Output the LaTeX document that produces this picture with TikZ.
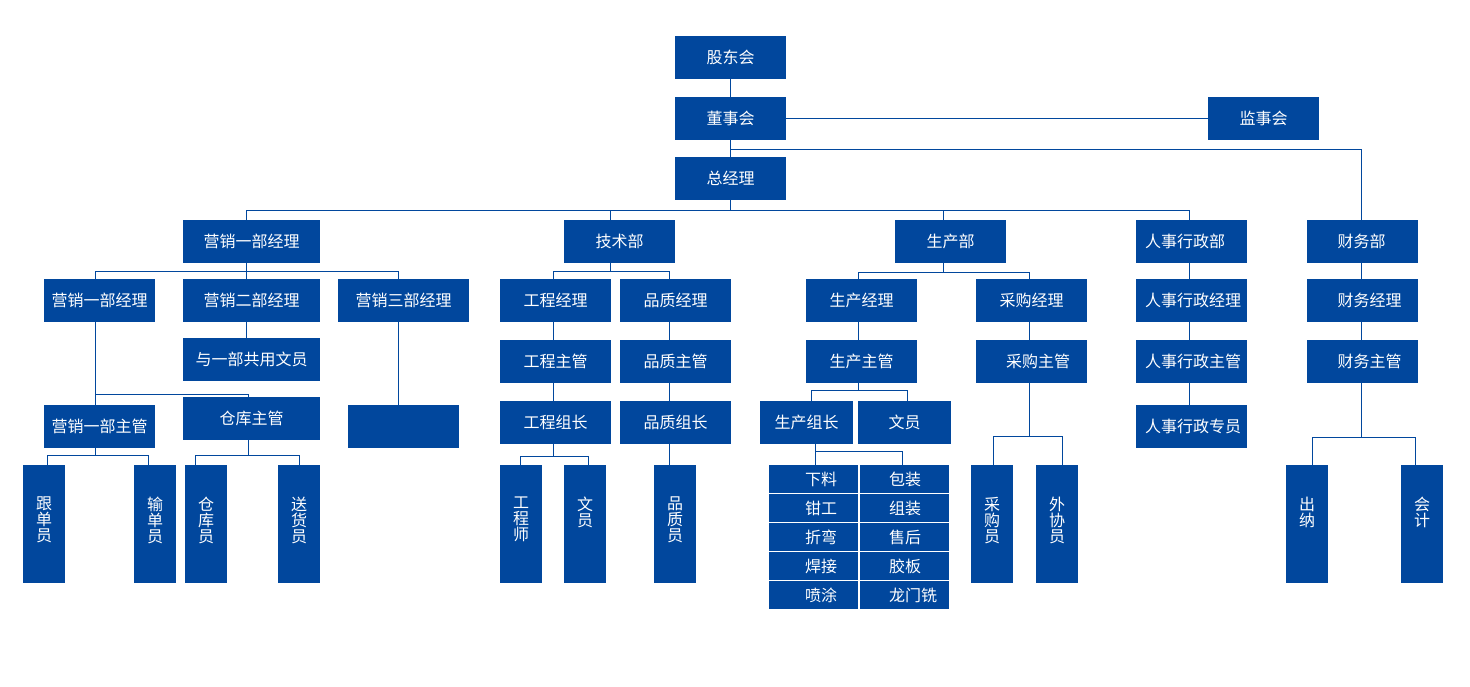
\documentclass[tikz,border=0pt]{standalone}
\usepackage{fontspec}
\setmainfont{Noto Sans CJK SC}
\definecolor{boxblue}{RGB}{1,71,157}
\tikzset{
  box/.style={fill=boxblue,draw=none,text=white,inner sep=0pt,outer sep=0pt,
    font=\fontsize{16}{16}\selectfont},
  ln/.style={draw=boxblue,line width=1pt}
}
\newcommand{\bx}[6]{\node[box,minimum width={#4-#2},minimum height={#5-#3}] (#1) at ({(#2+#4)/2},{(#3+#5)/2}) {#6};}
\newcommand{\vbx}[4]{\node[box,minimum width={#3-#2},minimum height=118] (#1) at ({(#2+#3)/2},524) {#4};}
\newcommand{\lb}[3]{\makebox[#1pt][l]{\hspace{#2pt}#3}}
\newcommand{\vc}[1]{\hbox to 0pt{\hss#1\hss}}
\newcommand{\vt}[1]{\vbox to 118pt{\baselineskip=16pt\lineskip=0pt\lineskiplimit=-100pt\vskip 32pt #1\vss}}
\begin{document}
\begin{tikzpicture}[x=1pt,y=-1pt]
\fill[white] (0,0) rectangle (1470,686);
\useasboundingbox (0,0) rectangle (1470,686);
% top
\bx{gd}{675}{36}{786}{79}{股东会}
\bx{dsh}{675}{97}{786}{140}{董事会}
\bx{jsh}{1208}{97}{1319}{140}{监事会}
\bx{zjl}{675}{157}{786}{200}{总经理}
% row 1
\bx{yx1}{183}{220}{320}{263}{营销一部经理}
\bx{jsb}{564}{220}{675}{263}{技术部}
\bx{scb}{895}{220}{1006}{263}{生产部}
\bx{rsb}{1136}{220}{1247}{263}{\lb{111}{9}{人事行政部}}
\bx{cwb}{1307}{220}{1418}{263}{\lb{111}{30.5}{财务部}}
% row 2
\bx{ya}{44}{279}{155}{322}{营销一部经理}
\bx{yb}{183}{279}{320}{322}{营销二部经理}
\bx{yc}{338}{279}{469}{322}{营销三部经理}
\bx{gcjl}{500}{279}{611}{322}{工程经理}
\bx{pzjl}{620}{279}{731}{322}{品质经理}
\bx{scjl}{806}{279}{917}{322}{生产经理}
\bx{cgjl}{976}{279}{1087}{322}{采购经理}
\bx{rsjl}{1136}{279}{1247}{322}{\lb{111}{9}{人事行政经理}}
\bx{cwjl}{1307}{279}{1418}{322}{\lb{111}{30.5}{财务经理}}
% row 3
\bx{wy1}{183}{338}{320}{381}{与一部共用文员}
\bx{gczg}{500}{340}{611}{383}{工程主管}
\bx{pzzg}{620}{340}{731}{383}{品质主管}
\bx{sczg}{806}{340}{917}{383}{生产主管}
\bx{cgzg}{976}{340}{1087}{383}{\lb{111}{30}{采购主管}}
\bx{rszg}{1136}{340}{1247}{383}{\lb{111}{9}{人事行政主管}}
\bx{cwzg}{1307}{340}{1418}{383}{\lb{111}{30.5}{财务主管}}
% row 4
\bx{yzg}{44}{405}{155}{448}{营销一部主管}
\bx{ckzg}{183}{397}{320}{440}{仓库主管}
\bx{blank}{348}{405}{459}{448}{}
\bx{gczz}{500}{401}{611}{444}{工程组长}
\bx{pzzz}{620}{401}{731}{444}{品质组长}
\bx{sczz}{760}{401}{853}{444}{生产组长}
\bx{scwy}{858}{401}{951}{444}{文员}
\bx{rszy}{1136}{405}{1247}{448}{\lb{111}{9}{人事行政专员}}
% row 5 vertical
\vbx{gdy}{23}{65}{\vt{\vc{跟}\vc{单}\vc{员}}}
\vbx{sdy}{134}{176}{\vt{\vc{输}\vc{单}\vc{员}}}
\vbx{cky}{185}{227}{\vt{\vc{仓}\vc{库}\vc{员}}}
\vbx{shy}{278}{320}{\vt{\vc{送}\vc{货}\vc{员}}}
\vbx{gcs}{500}{542}{\vt{\vc{工}\vc{程}\vc{师}}}
\vbx{wy2}{564}{606}{\vt{\vc{文}\vc{员}}}
\vbx{pzy}{654}{696}{\vt{\vc{品}\vc{质}\vc{员}}}
\vbx{cgy}{971}{1013}{\vt{\vc{采}\vc{购}\vc{员}}}
\vbx{wxy}{1036}{1078}{\vt{\vc{外}\vc{协}\vc{员}}}
\vbx{cn}{1286}{1328}{\vt{\vc{出}\vc{纳}}}
\vbx{kj}{1401}{1443}{\vt{\vc{会}\vc{计}}}
% grid
\bx{g1}{769}{465}{858}{493}{\lb{89}{36}{下料}}
\bx{g2}{769}{494}{858}{522}{\lb{89}{36}{钳工}}
\bx{g3}{769}{523}{858}{551}{\lb{89}{36}{折弯}}
\bx{g4}{769}{552}{858}{580}{\lb{89}{36}{焊接}}
\bx{g5}{769}{581}{858}{609}{\lb{89}{36}{喷涂}}
\bx{h1}{860}{465}{949}{493}{\lb{89}{29}{包装}}
\bx{h2}{860}{494}{949}{522}{\lb{89}{29}{组装}}
\bx{h3}{860}{523}{949}{551}{\lb{89}{29}{售后}}
\bx{h4}{860}{552}{949}{580}{\lb{89}{29}{胶板}}
\bx{h5}{860}{581}{949}{609}{\lb{89}{29}{龙门铣}}
% ---------- connectors ----------
\draw[ln] (gd.south) -- (dsh.north);
\draw[ln] (dsh.east) -- (jsh.west);
\draw[ln] (dsh.south) -- (zjl.north);
\coordinate (j1) at (730.5,149.5);
\coordinate (xf) at (1361.5,149.5);
\draw[ln] (j1) -- (xf) -- (xf |- cwb.north);
% main bus
\coordinate (xa) at (246.5,210.5);
\coordinate (xb) at (610.5,210.5);
\coordinate (xz) at (730.5,210.5);
\coordinate (xc) at (943.5,210.5);
\coordinate (xd) at (1189.5,210.5);
\draw[ln] (zjl.south) -- (xz);
\draw[ln] (xa |- yx1.north) -- (xa) -- (xd) -- (xd |- rsb.north);
\draw[ln] (xb) -- (xb |- jsb.north);
\draw[ln] (xc) -- (xc |- scb.north);
% marketing
\coordinate (ma) at (95.5,271.5);
\coordinate (mb) at (246.5,271.5);
\coordinate (mc) at (398.5,271.5);
\draw[ln] (mb |- yx1.south) -- (mb) -- (mb |- yb.north);
\draw[ln] (ma |- ya.north) -- (ma) -- (mc) -- (mc |- yc.north);
\draw[ln] (mb |- yb.south) -- (mb |- wy1.north);
\draw[ln] (ma |- ya.south) -- (ma |- yzg.north);
\coordinate (mk) at (95.5,394);
\coordinate (mk2) at (248.5,394);
\draw[ln] (mk) -- (mk2) -- (mk2 |- ckzg.north);
\draw[ln] (mc |- yc.south) -- (mc |- blank.north);
\coordinate (ga) at (47.5,455.5);
\coordinate (gb) at (95.5,455.5);
\coordinate (gc) at (148.5,455.5);
\draw[ln] (gb |- yzg.south) -- (gb);
\draw[ln] (ga |- gdy.north) -- (ga) -- (gc) -- (gc |- sdy.north);
\coordinate (ka) at (195.5,455.5);
\coordinate (kb) at (248.5,455.5);
\coordinate (kc) at (299.5,455.5);
\draw[ln] (kb |- ckzg.south) -- (kb);
\draw[ln] (ka |- cky.north) -- (ka) -- (kc) -- (kc |- shy.north);
% technical
\coordinate (ta) at (553.5,271.5);
\coordinate (tb) at (610.5,271.5);
\coordinate (tc) at (669.5,271.5);
\draw[ln] (tb |- jsb.south) -- (tb);
\draw[ln] (ta |- gcjl.north) -- (ta) -- (tc) -- (tc |- pzjl.north);
\draw[ln] (ta |- gcjl.south) -- (ta |- gczg.north);
\draw[ln] (ta |- gczg.south) -- (ta |- gczz.north);
\draw[ln] (tc |- pzjl.south) -- (tc |- pzzg.north);
\draw[ln] (tc |- pzzg.south) -- (tc |- pzzz.north);
\draw[ln] (tc |- pzzz.south) -- (tc |- pzy.north);
\coordinate (ea) at (520.5,456.5);
\coordinate (eb) at (553.5,456.5);
\coordinate (ec) at (588.5,456.5);
\draw[ln] (eb |- gczz.south) -- (eb);
\draw[ln] (ea |- gcs.north) -- (ea) -- (ec) -- (ec |- wy2.north);
% production
\coordinate (pa) at (858.5,272);
\coordinate (pb) at (943.5,272);
\coordinate (pc) at (1029.5,272);
\draw[ln] (pb |- scb.south) -- (pb);
\draw[ln] (pa |- scjl.north) -- (pa) -- (pc) -- (pc |- cgjl.north);
\draw[ln] (pa |- scjl.south) -- (pa |- sczg.north);
\coordinate (qa) at (811.5,390.5);
\coordinate (qb) at (858.5,390.5);
\coordinate (qc) at (907.5,390.5);
\draw[ln] (qb |- sczg.south) -- (qb);
\draw[ln] (qa |- sczz.north) -- (qa) -- (qc) -- (qc |- scwy.north);
\coordinate (ra) at (815.5,451.5);
\coordinate (rb) at (902.5,451.5);
\draw[ln] (ra |- sczz.south) -- (ra |- g1.north);
\draw[ln] (ra) -- (rb) -- (rb |- h1.north);
% purchasing
\draw[ln] (pc |- cgjl.south) -- (pc |- cgzg.north);
\coordinate (ua) at (993.5,436.5);
\coordinate (ub) at (1029.5,436.5);
\coordinate (uc) at (1062.5,436.5);
\draw[ln] (ub |- cgzg.south) -- (ub);
\draw[ln] (ua |- cgy.north) -- (ua) -- (uc) -- (uc |- wxy.north);
% HR
\draw[ln] (xd |- rsb.south) -- (xd |- rsjl.north);
\draw[ln] (xd |- rsjl.south) -- (xd |- rszg.north);
\draw[ln] (xd |- rszg.south) -- (xd |- rszy.north);
% finance
\draw[ln] (xf |- cwb.south) -- (xf |- cwjl.north);
\draw[ln] (xf |- cwjl.south) -- (xf |- cwzg.north);
\coordinate (fa) at (1312.5,437.5);
\coordinate (fc) at (1415.5,437.5);
\draw[ln] (xf |- cwzg.south) -- (xf |- fa);
\draw[ln] (fa |- cn.north) -- (fa) -- (fc) -- (fc |- kj.north);
\end{tikzpicture}
\end{document}
